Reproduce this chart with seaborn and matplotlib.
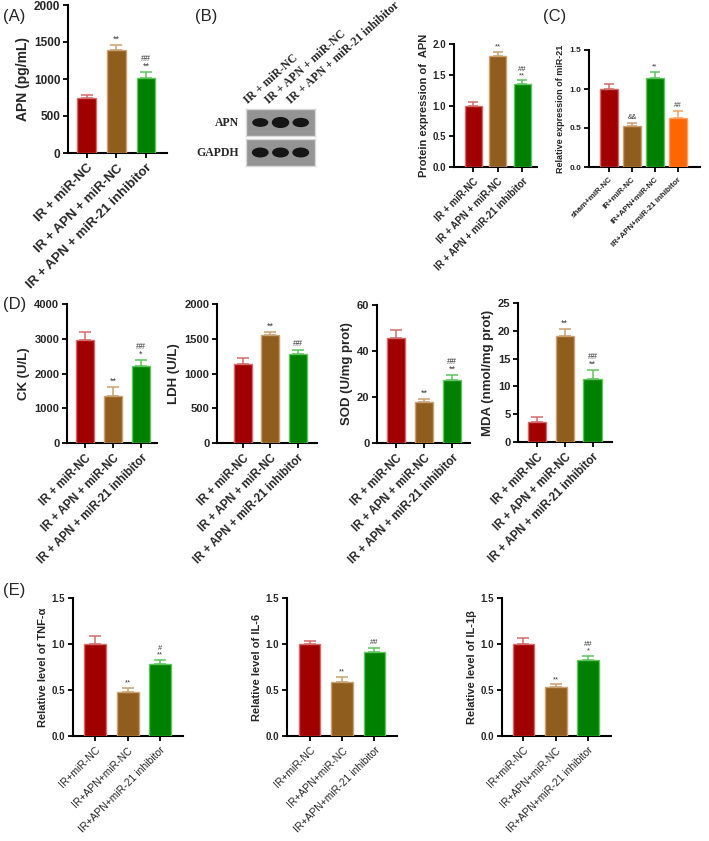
import numpy as np
import pandas as pd
import seaborn as sns
import matplotlib.pyplot as plt
from matplotlib.patches import Ellipse

# ---- data ----
cats_sp = ["IR + miR-NC", "IR + APN + miR-NC", "IR + APN + miR-21 inhibitor"]
cats_ns = ["IR+miR-NC", "IR+APN+miR-NC", "IR+APN+miR-21 inhibitor"]
cats_c = ["sham+miR-NC", "IR+miR-NC", "IR+APN+miR-NC", "IR+APN+miR-21 inhibitor"]

apn_val = [750, 1390, 1010]
apn_err = [40, 70, 80]
apn_mark = ["", "**", "##\n**"]

prot_val = [1.0, 1.80, 1.35]
prot_err = [0.05, 0.07, 0.06]
prot_mark = ["", "**", "##\n**"]

mir_val = [1.0, 0.52, 1.14, 0.63]
mir_err = [0.06, 0.05, 0.08, 0.09]
mir_mark = ["", "&&", "**", "##"]

ck_val = [2950, 1340, 2230]
ck_err = [250, 270, 150]
ck_mark = ["", "**", "##\n*"]

ldh_val = [1140, 1550, 1280]
ldh_err = [90, 40, 60]
ldh_mark = ["", "**", "##"]

sod_val = [45.5, 17.7, 27.2]
sod_err = [3.5, 1.5, 2.4]
sod_mark = ["", "**", "##\n**"]

mda_val = [3.6, 19.0, 11.4]
mda_err = [0.9, 1.3, 1.5]
mda_mark = ["", "**", "##\n**"]

tnf_val = [1.0, 0.48, 0.78]
tnf_err = [0.09, 0.04, 0.05]
tnf_mark = ["", "**", "#\n**"]

il6_val = [1.0, 0.59, 0.91]
il6_err = [0.03, 0.05, 0.05]
il6_mark = ["", "**", "##"]

il1b_val = [1.0, 0.53, 0.83]
il1b_err = [0.07, 0.03, 0.04]
il1b_mark = ["", "**", "##\n*"]

# western blot band strength (relative)
blot_lanes = ["IR + miR-NC", "IR + APN + miR-NC", "IR + APN + miR-21 inhibitor"]
band_apn = [0.6, 1.0, 0.7]
band_gapdh = [0.8, 0.8, 0.8]

bar_cols = ["#A00000", "#8F5E1E", "#008000", "#FF6600"]
edge_cols = ["#D56A6A", "#C9A070", "#5EC45E", "#FFA060"]

sns.set_style("ticks")
plt.rcParams['font.family'] = ['Liberation Sans', 'DejaVu Sans']

W, H = 709, 841
fig = plt.figure(figsize=(W / 100, H / 100), dpi=100)


def rect(x0, y0, x1, y1):
    return [x0 / W, 1 - y1 / H, (x1 - x0) / W, (y1 - y0) / H]


def bar_panel(r, cats, vals, errs, marks, ylim, step, ylabel, xlim, width,
              fs_tick, fs_lab, fs_cat, fs_mark, cat_bold=True, fmt="{:.0f}", cap=4.3):
    ax = fig.add_axes(r)
    n = len(cats)
    df = pd.DataFrame({"group": cats, "value": vals})
    sns.barplot(data=df, x="group", y="value", hue="group", palette=bar_cols[:n],
                saturation=1, width=width, errorbar=None, legend=False, ax=ax, zorder=3)
    for i, p in enumerate(ax.patches):
        p.set_edgecolor(edge_cols[i])
        p.set_linewidth(1.0)
    for i in range(n):
        ax.errorbar([i], [vals[i]], yerr=[[0], [errs[i]]], fmt="none",
                    ecolor=edge_cols[i], elinewidth=1.1, capsize=cap, capthick=1.1, zorder=2)
        if marks[i]:
            ax.annotate(marks[i], (i, vals[i] + errs[i]), xytext=(0, 1),
                        textcoords="offset points", ha="center", va="bottom",
                        fontsize=fs_mark, color="#3a3a3a", linespacing=0.85)
    ax.set_xlim(*xlim)
    ax.set_ylim(*ylim)
    ticks = np.arange(ylim[0], ylim[1] + step / 2, step)
    ax.set_yticks(ticks)
    ax.set_yticklabels([fmt.format(t) for t in ticks], fontsize=fs_tick, fontweight="bold")
    ax.set_xticks(range(n))
    ax.set_xticklabels(cats, rotation=45, ha="right", rotation_mode="anchor",
                       fontsize=fs_cat, fontweight="bold" if cat_bold else "normal")
    ax.set_xlabel("")
    ax.set_ylabel(ylabel, fontsize=fs_lab, fontweight="bold", labelpad=3)
    sns.despine(ax=ax)
    for s in ["left", "bottom"]:
        ax.spines[s].set_linewidth(1.5)
        ax.spines[s].set_color("black")
    ax.tick_params(axis="both", length=3.5, width=1.3, color="black", pad=2)
    ax.tick_params(axis="x", pad=3)
    ax.set_facecolor("none")
    return ax


# (A)
bar_panel(rect(68, 5, 167, 153), cats_sp, apn_val, apn_err, apn_mark, (0, 2000), 500,
          "APN (pg/mL)", (-0.64, 2.71), 0.64, 8.5, 10, 9.5, 6.5)

# (B) protein expression
bar_panel(rect(454, 44, 537, 167), cats_sp, prot_val, prot_err, prot_mark, (0, 2.0), 0.5,
          "Protein expression of  APN", (-0.78, 2.6), 0.7, 7, 8, 7, 5.5, fmt="{:.1f}", cap=3.5)

# (C)
bar_panel(rect(589, 50, 700, 167), cats_c, mir_val, mir_err, mir_mark, (0, 1.5), 0.5,
          "Relative expression of miR-21", (-0.87, 3.96), 0.78, 6, 6.5, 5.8, 5, fmt="{:.1f}", cap=3.5)

# (D)
bar_panel(rect(67, 304, 157, 443), cats_sp, ck_val, ck_err, ck_mark, (0, 4000), 1000,
          "CK (U/L)", (-0.64, 2.57), 0.64, 8, 9.5, 8.3, 6.5)
bar_panel(rect(217, 304, 317, 443), cats_sp, ldh_val, ldh_err, ldh_mark, (0, 2000), 500,
          "LDH (U/L)", (-0.94, 2.7), 0.66, 8, 9.5, 8.3, 6.5)
bar_panel(rect(377, 305, 470, 443), cats_sp, sod_val, sod_err, sod_mark, (0, 60), 20,
          "SOD (U/mg prot)", (-0.68, 2.64), 0.66, 8, 9.5, 8.3, 6.5)
bar_panel(rect(518, 303, 612, 442), cats_sp, mda_val, mda_err, mda_mark, (0, 25), 5,
          "MDA (nmol/mg prot)", (-0.68, 2.7), 0.66, 8, 9.5, 8.3, 6.5)

# (E)
bar_panel(rect(73, 598, 183, 736), cats_ns, tnf_val, tnf_err, tnf_mark, (0, 1.5), 0.5,
          "Relative level of TNF-α", (-0.68, 2.7), 0.67, 7, 8, 7.5, 5.5, cat_bold=False, fmt="{:.1f}")
bar_panel(rect(287, 598, 397, 736), cats_ns, il6_val, il6_err, il6_mark, (0, 1.5), 0.5,
          "Relative level of IL-6", (-0.7, 2.7), 0.67, 7, 8, 7.5, 5.5, cat_bold=False, fmt="{:.1f}")
bar_panel(rect(502, 598, 611, 736), cats_ns, il1b_val, il1b_err, il1b_mark, (0, 1.5), 0.5,
          "Relative level of IL-1β", (-0.66, 2.7), 0.67, 7, 8, 7.5, 5.5, cat_bold=False, fmt="{:.1f}")

# (B) western blot
for r, bands, name in [(rect(246, 109, 315, 136), band_apn, "APN"),
                       (rect(246, 139, 315, 166), band_gapdh, "GAPDH")]:
    bx = fig.add_axes(r)
    bx.set_facecolor("#949494")
    bx.set_xlim(0, 3)
    bx.set_ylim(0, 1)
    for i, b in enumerate(bands):
        bx.add_patch(Ellipse((0.62 + 0.88 * i, 0.5), 0.55 + 0.15 * b, 0.14 + 0.22 * b,
                             color="#151515"))
    bx.set_xticks([])
    bx.set_yticks([])
    for s in bx.spines.values():
        s.set_color("#d8d8d8")
        s.set_linewidth(1)
    bx.text(-0.1, 0.5, name, transform=bx.transAxes, ha="right", va="center",
            fontsize=8.5, fontweight="bold", family=["Liberation Serif", "DejaVu Serif"])

for i, lane in enumerate(blot_lanes):
    fig.text((250 + 21.5 * i) / W, 1 - 106 / H, lane, rotation=42, rotation_mode="anchor",
             ha="left", va="bottom", fontsize=8.5, fontweight="bold",
             family=["Liberation Serif", "DejaVu Serif"])

# panel labels
for lab, x, y in [("(A)", 3, 16), ("(B)", 195, 16), ("(C)", 543, 16), ("(D)", 3, 305), ("(E)", 3, 590)]:
    fig.text(x / W, 1 - y / H, lab, fontsize=12, ha="left", va="center")

fig.savefig("out.png", dpi=100)
